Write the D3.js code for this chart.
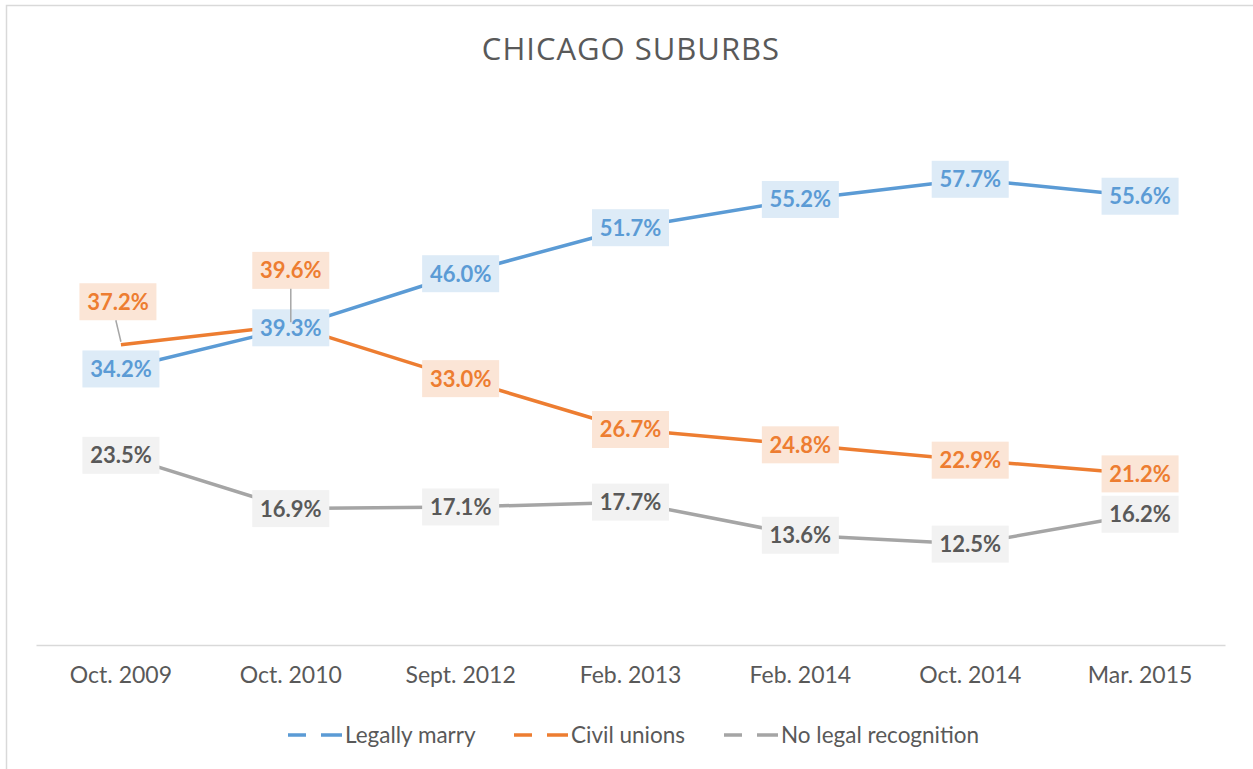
<!DOCTYPE html>
<html>
<head>
<meta charset="utf-8">
<script src="https://cdn.jsdelivr.net/npm/d3@7"></script>
<style>
  body { margin: 0; background: #fff; }
  svg { display: block; }
</style>
</head>
<body>
<div id="chart"></div>
<script>
var categories = ["Oct. 2009", "Oct. 2010", "Sept. 2012", "Feb. 2013", "Feb. 2014", "Oct. 2014", "Mar. 2015"];
var legallyMarry = [34.2, 39.3, 46.0, 51.7, 55.2, 57.7, 55.6];
var civilUnions = [37.2, 39.6, 33.0, 26.7, 24.8, 22.9, 21.2];
var noRecognition = [23.5, 16.9, 17.1, 17.7, 13.6, 12.5, 16.2];
var seriesNames = ["Legally marry", "Civil unions", "No legal recognition"];

var width = 1253, height = 769;
var margin = {left: 36, right: 28, top: 80, bottom: 124};

var series = [
    {name: seriesNames[0], values: legallyMarry, line: "#5B9BD5", box: "#DDEBF7", text: "#5B9BD5"},
    {name: seriesNames[1], values: civilUnions, line: "#ED7D31", box: "#FBE5D6", text: "#ED7D31"},
    {name: seriesNames[2], values: noRecognition, line: "#A5A5A5", box: "#F2F2F2", text: "#595959"}
];

// labels that Excel pushed away from their point (series index, point index) -> pixel shift
var labelShift = {"1-0": [-3, -43], "1-1": [0, -55]};

var svg = d3.select("#chart").append("svg")
    .attr("width", width)
    .attr("height", height);

svg.append("rect")
    .attr("x", 6.5).attr("y", 5.5)
    .attr("width", width).attr("height", height)
    .attr("fill", "#fff")
    .attr("stroke", "#D9D9D9")
    .attr("stroke-width", 1.5);

var x = d3.scaleBand().domain(categories).range([margin.left, width - margin.right]);
var y = d3.scaleLinear().domain([0, 70]).range([height - margin.bottom, margin.top]);

svg.append("text")
    .attr("x", 631).attr("y", 60)
    .attr("text-anchor", "middle")
    .style("font-family", "'Open Sans', sans-serif")
    .style("font-size", "31px")
    .style("letter-spacing", "1px")
    .attr("fill", "#595959")
    .text("CHICAGO SUBURBS");

var xAxis = svg.append("g")
    .attr("transform", "translate(0," + y(0) + ")")
    .call(d3.axisBottom(x).tickSize(0).tickPadding(22));
xAxis.select(".domain").attr("stroke", "#D9D9D9").attr("stroke-width", 1.5);
xAxis.selectAll("text")
    .style("font-family", "Lato, sans-serif")
    .style("font-size", "23px")
    .attr("fill", "#595959");

var line = d3.line()
    .x(function(d, i) { return x(categories[i]) + x.bandwidth() / 2; })
    .y(function(d) { return y(d); });

svg.selectAll(".series")
    .data(series)
    .join("path")
    .attr("class", "series")
    .attr("d", function(d) { return line(d.values); })
    .attr("fill", "none")
    .attr("stroke", function(d) { return d.line; })
    .attr("stroke-width", 3.5)
    .attr("stroke-linejoin", "round");

var labels = [];
series.forEach(function(s, si) {
    s.values.forEach(function(v, i) {
        var px = x(categories[i]) + x.bandwidth() / 2, py = y(v);
        var sh = labelShift[si + "-" + i] || [0, 0];
        labels.push({s: s, v: v, px: px, py: py, lx: px + sh[0], ly: py + sh[1], moved: !!labelShift[si + "-" + i]});
    });
});

var boxW = 77, boxH = 37;
var lg = svg.selectAll(".label")
    .data(labels)
    .join("g")
    .attr("class", "label")
    .attr("transform", function(d) { return "translate(" + d.lx + "," + d.ly + ")"; });

lg.append("rect")
    .attr("x", -boxW / 2).attr("y", -boxH / 2)
    .attr("width", boxW).attr("height", boxH)
    .attr("fill", function(d) { return d.s.box; });

lg.append("text")
    .attr("text-anchor", "middle")
    .attr("dy", "0.36em")
    .style("font-family", "Lato, sans-serif")
    .style("font-weight", "bold")
    .style("font-size", "22px")
    .attr("fill", function(d) { return d.s.text; })
    .text(function(d) { return d.v.toFixed(1) + "%"; });

// leader lines for moved labels
svg.selectAll(".leader")
    .data(labels.filter(function(d) { return d.moved; }))
    .join("line")
    .attr("class", "leader")
    .attr("x1", function(d) { return d.lx + (d.lx - d.px) * 0.7; })
    .attr("y1", function(d) { return d.ly + boxH / 2; })
    .attr("x2", function(d) { return d.px; })
    .attr("y2", function(d) { return d.py - 3; })
    .attr("stroke", "#A6A6A6")
    .attr("stroke-width", 1.5);

var legendX = [288, 514, 724];
var legend = svg.selectAll(".legend")
    .data(series)
    .join("g")
    .attr("class", "legend")
    .attr("transform", function(d, i) { return "translate(" + legendX[i] + ",735)"; });

legend.append("line")
    .attr("x1", 0).attr("x2", 54)
    .attr("stroke", function(d) { return d.line; })
    .attr("stroke-width", 3.5)
    .attr("stroke-dasharray", "18,15,21");

legend.append("text")
    .attr("x", 57)
    .attr("dy", "0.35em")
    .style("font-family", "Lato, sans-serif")
    .style("font-size", "22.5px")
    .attr("fill", "#595959")
    .text(function(d) { return d.name; });
</script>
</body>
</html>
